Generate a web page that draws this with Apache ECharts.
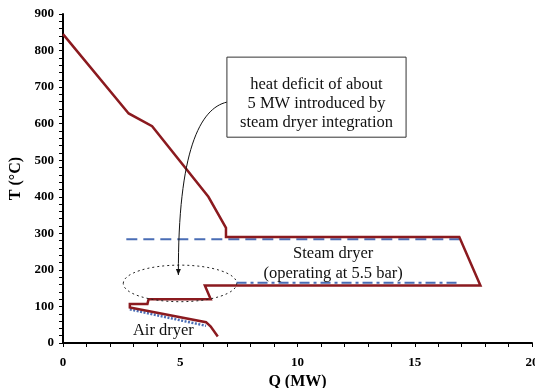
<!DOCTYPE html>
<html>
<head>
<meta charset="utf-8">
<script src="https://cdn.jsdelivr.net/npm/echarts@6/dist/echarts.min.js"></script>
<style>
  html, body { margin: 0; padding: 0; background: #fff; }
  #chart { width: 535px; height: 388px; }
</style>
</head>
<body>
<div id="chart"></div>
<script>
// Grand composite curve: heat flow Q (MW) against temperature T (°C)
const compositeQ = [0, 2.8, 3.8, 6.2, 6.95, 6.95, 16.9, 17.8, 6.05, 6.3, 3.65, 3.6, 2.85, 2.85, 6.1, 6.3, 6.6];
const compositeT = [845, 628, 593, 400, 315, 290, 290, 157, 157, 120, 120, 107, 107, 97, 57, 45, 18];

// Steam dryer: condensing steam level and evaporation level
const steamQ = [2.7, 16.9];
const steamT = [284, 284];
const dryerQ = [7.4, 16.9];
const dryerT = [165, 165];

// Air dryer demand
const airQ = [2.85, 6.1];
const airT = [92, 47];

// Axis ticks
const qTicks = [0, 5, 10, 15, 20];
const tTicks = [0, 100, 200, 300, 400, 500, 600, 700, 800, 900];

const pairs = (xs, ys) => xs.map((x, i) => [x, ys[i]]);

const serif = '"Liberation Serif", "DejaVu Serif", serif';
const red = '#8b1a1f';
const blue = '#4a6db5';
const noteFont = '16.5px ' + serif;

// Annotation geometry, in axis units (Q, T)
const note = {
  ellipse: { q: 4.99, t: 163, rq: 2.42, rt: 50 },
  box: { q0: 6.99, t0: 782, q1: 14.63, t1: 563 },
  boxText: 'heat deficit of about\n5 MW introduced by\nsteam dryer integration',
  boxTextT: 655,
  curve: { from: [6.99, 659], c1: [5.85, 642], c2: [4.9, 527], to: [4.92, 186] },
  steamLabel: { q: 11.52, t: 243, text: 'Steam dryer' },
  steamSub: { q: 11.52, t: 189, text: '(operating at 5.5 bar)' },
  airLabel: { q: 4.28, t: 34, text: 'Air dryer' }
};

function renderNotes(params, api) {
  const c = (q, t) => api.coord([q, t]);
  const e = note.ellipse;
  const ec = c(e.q, e.t);
  const rx = c(e.q + e.rq, e.t)[0] - ec[0];
  const ry = ec[1] - c(e.q, e.t + e.rt)[1];
  const b0 = c(note.box.q0, note.box.t0);
  const b1 = c(note.box.q1, note.box.t1);
  const bt = c((note.box.q0 + note.box.q1) / 2, note.boxTextT);
  const p0 = c(...note.curve.from), p1 = c(...note.curve.c1), p2 = c(...note.curve.c2), p3 = c(...note.curve.to);
  const txt = (lab) => {
    const p = c(lab.q, lab.t);
    return {
      type: 'text',
      style: { text: lab.text, x: p[0], y: p[1], fill: '#111', font: noteFont, align: 'center', verticalAlign: 'middle' }
    };
  };
  return {
    type: 'group',
    children: [
      {
        type: 'ellipse',
        shape: { cx: ec[0], cy: ec[1], rx: rx, ry: ry },
        style: { fill: 'none', stroke: '#222', lineWidth: 1, lineDash: [2, 3] }
      },
      {
        type: 'bezierCurve',
        shape: { x1: p0[0], y1: p0[1], cpx1: p1[0], cpy1: p1[1], cpx2: p2[0], cpy2: p2[1], x2: p3[0], y2: p3[1] },
        style: { fill: 'none', stroke: '#111', lineWidth: 1 }
      },
      {
        type: 'polygon',
        shape: { points: [[p3[0] - 2.5, p3[1] - 6], [p3[0] + 2.5, p3[1] - 6], [p3[0], p3[1]]] },
        style: { fill: '#111' }
      },
      {
        type: 'rect',
        shape: { x: b0[0], y: b0[1], width: b1[0] - b0[0], height: b1[1] - b0[1] },
        style: { fill: '#fff', stroke: '#333', lineWidth: 1 }
      },
      {
        type: 'text',
        style: {
          text: note.boxText,
          x: bt[0], y: bt[1],
          fill: '#111', font: noteFont, lineHeight: 19,
          align: 'center', verticalAlign: 'middle'
        }
      },
      txt(note.steamLabel),
      txt(note.steamSub),
      txt(note.airLabel)
    ]
  };
}

const chart = echarts.init(document.getElementById('chart'), null, { renderer: 'canvas' });

chart.setOption({
  animation: false,
  backgroundColor: '#fff',
  grid: { left: 63, right: 3, top: 14, bottom: 45, containLabel: false, outerBoundsMode: 'none' },
  xAxis: {
    type: 'value',
    min: qTicks[0],
    max: qTicks[qTicks.length - 1],
    interval: qTicks[1] - qTicks[0],
    name: 'Q (MW)',
    nameLocation: 'middle',
    nameGap: 25,
    nameTextStyle: { fontFamily: serif, fontWeight: 'bold', fontSize: 16, color: '#000' },
    axisLine: { onZero: false, lineStyle: { color: '#000', width: 2 } },
    axisTick: { show: true, inside: false, length: 4, lineStyle: { color: '#000', width: 1 } },
    minorTick: { show: true, splitNumber: 5, length: 4, lineStyle: { color: '#000', width: 1 } },
    axisLabel: { margin: 13, fontFamily: serif, fontWeight: 'bold', fontSize: 13, color: '#000' },
    splitLine: { show: false }
  },
  yAxis: {
    type: 'value',
    min: tTicks[0],
    max: tTicks[tTicks.length - 1],
    interval: tTicks[1] - tTicks[0],
    name: 'T (°C)',
    nameLocation: 'middle',
    nameGap: 35,
    nameRotate: 90,
    nameTextStyle: { fontFamily: serif, fontWeight: 'bold', fontSize: 16, color: '#000' },
    axisLine: { show: true, onZero: false, lineStyle: { color: '#000', width: 2 } },
    axisTick: { show: true, inside: false, length: 4, lineStyle: { color: '#000', width: 1 } },
    minorTick: { show: true, splitNumber: 5, length: 4, lineStyle: { color: '#000', width: 1 } },
    axisLabel: { margin: 9, fontFamily: serif, fontWeight: 'bold', fontSize: 13, color: '#000' },
    splitLine: { show: false }
  },
  series: [
    {
      name: 'Steam level',
      type: 'line',
      data: pairs(steamQ, steamT),
      symbol: 'none',
      lineStyle: { color: blue, width: 2, type: [11, 6] },
      z: 2
    },
    {
      name: 'Dryer level',
      type: 'line',
      data: pairs(dryerQ, dryerT),
      symbol: 'none',
      lineStyle: { color: blue, width: 2, type: [10, 4, 3, 4] },
      z: 2
    },
    {
      name: 'Air dryer',
      type: 'line',
      data: pairs(airQ, airT),
      symbol: 'none',
      lineStyle: { color: blue, width: 2.5, type: [2, 1.5] },
      z: 2
    },
    {
      name: 'Grand composite curve',
      type: 'line',
      data: pairs(compositeQ, compositeT),
      symbol: 'none',
      lineStyle: { color: red, width: 2.5, join: 'miter' },
      z: 3
    },
    {
      name: 'Notes',
      type: 'custom',
      data: [[0, 0]],
      renderItem: renderNotes,
      silent: true,
      clip: false,
      z: 4
    }
  ]
});
</script>
</body>
</html>
